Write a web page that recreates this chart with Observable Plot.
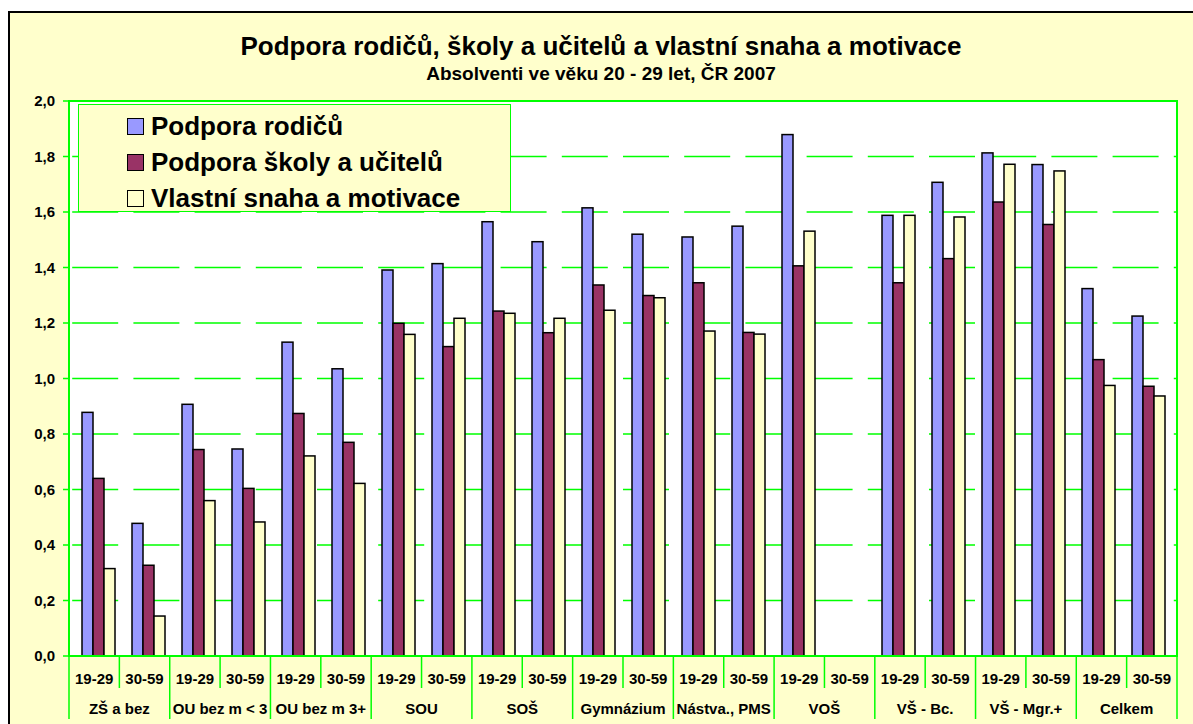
<!DOCTYPE html>
<html><head><meta charset="utf-8">
<script src="https://cdn.jsdelivr.net/npm/d3@7"></script>
<script src="https://cdn.jsdelivr.net/npm/@observablehq/plot@0.6"></script>
<style>
html,body{margin:0;padding:0;width:1193px;height:724px;overflow:hidden;background:#fff;}
#frame{position:absolute;left:8px;top:11px;width:1220px;height:740px;background:#FFFFCC;border-left:2px solid #000;border-top:2px solid #000;}
.t{position:absolute;left:0;width:1202px;text-align:center;font-family:"Liberation Sans",Arial,sans-serif;font-weight:bold;color:#000;white-space:nowrap;}
#title{top:31px;font-size:26px;line-height:30px;}
#sub{top:63px;font-size:19px;line-height:22px;}
#chart{position:absolute;left:0;top:90px;}
#legend{position:absolute;left:78px;top:104px;width:433px;height:108px;background:#FFFFCC;border:1.5px solid #00FF00;box-sizing:border-box;font-family:"Liberation Sans",Arial,sans-serif;font-weight:bold;font-size:26px;}
.item{position:absolute;left:48px;height:30px;line-height:30px;white-space:nowrap;}
.sw{display:inline-block;width:15px;height:15px;border:1.5px solid #000;vertical-align:middle;margin-right:7px;position:relative;top:-2px;}
</style>
</head><body>
<div id="frame"></div>
<div class="t" id="title">Podpora rodičů, školy a učitelů a vlastní snaha a motivace</div>
<div class="t" id="sub">Absolventi ve věku 20 - 29 let, ČR 2007</div>
<div id="chart"></div>
<div id="legend"></div>
<script>
const groups = ["ZŠ a bez","OU bez m < 3","OU bez m 3+","SOU","SOŠ","Gymnázium","Nástva., PMS","VOŠ","VŠ - Bc.","VŠ - Mgr.+","Celkem"];
const ages = ["19-29","30-59"];
const series = ["Podpora rodičů","Podpora školy a učitelů","Vlastní snaha a motivace"];
const colors = ["#9999FF","#993366","#FFFFCC"];
// values per group, in order 19-29, 30-59
const podporaRodicu  = [0.878,0.478, 0.907,0.746, 1.131,1.035, 1.391,1.414, 1.565,1.493, 1.615,1.52, 1.51,1.549, 1.879,null, 1.588,1.707, 1.813,1.771, 1.324,1.225];
const podporaSkoly   = [0.64,0.327, 0.744,0.604, 0.874,0.77, 1.199,1.115, 1.243,1.165, 1.337,1.299, 1.345,1.166, 1.406,null, 1.345,1.432, 1.636,1.555, 1.068,0.972];
const vlastniSnaha   = [0.315,0.144, 0.56,0.483, 0.721,0.622, 1.159,1.217, 1.235,1.217, 1.246,1.291, 1.171,1.16, 1.531,null, 1.588,1.582, 1.772,1.748, 0.975,0.937];
const yTicks = [0,0.2,0.4,0.6,0.8,1.0,1.2,1.4,1.6,1.8,2.0];

const values = [podporaRodicu, podporaSkoly, vlastniSnaha];
const keys = [];
groups.forEach(g => ages.forEach(a => keys.push(g + "|" + a)));
const rows = [];
keys.forEach((k, i) => series.forEach((s, j) => {
  const v = values[j][i];
  if (v != null) rows.push({key: k, series: s, value: v});
}));

const W = 1193, H = 634;
const font = '"Liberation Sans", Arial, sans-serif';
const chart = Plot.plot({
  width: W, height: H,
  marginLeft: 69, marginRight: 16, marginTop: 11, marginBottom: 68,
  style: {background: "transparent", fontFamily: font, fontSize: "15px", fontWeight: "bold", color: "#000", overflow: "visible"},
  fx: {domain: keys, paddingInner: 0.315, paddingOuter: 0.1575, axis: null, label: null},
  x: {domain: series, padding: 0, axis: null},
  y: {domain: [0, 2], axis: null, label: null},
  color: {domain: series, range: colors},
  marks: [
    Plot.barY(rows, {fx: "key", x: "series", y: "value", fill: "series", stroke: "#000", strokeWidth: 1.5})
  ]
});
document.getElementById("chart").appendChild(chart);

// decorations drawn with the plot's own scales
const svg = d3.select(chart);
const fxd = chart.scale("fx"), yd = chart.scale("y");
const fxs = d3.scaleBand(fxd.domain, fxd.range).paddingInner(fxd.paddingInner).paddingOuter(fxd.paddingOuter).align(fxd.align ?? 0.5);
const ys = d3.scaleLinear(yd.domain, yd.range);
const x0 = fxd.range[0], x1 = fxd.range[1];
const yTop = ys(2), yBot = ys(0);
const step = fxs.step(), gap = step - fxs.bandwidth();
const bg = svg.insert("g", ":first-child");
bg.append("rect").attr("x", x0).attr("y", yTop).attr("width", x1 - x0).attr("height", yBot - yTop).attr("fill", "#fff");
yTicks.filter(t => t > 0 && t < 2).forEach(t => {
  bg.append("line").attr("x1", x0).attr("x2", x1).attr("y1", ys(t)).attr("y2", ys(t))
    .attr("stroke", "#00FF00").attr("stroke-width", 1.3).attr("stroke-dasharray", "46,15.2").attr("stroke-dashoffset", 58);
});
const fg = svg.append("g");
yTicks.forEach(t => {
  fg.append("line").attr("x1", x0 - 6).attr("x2", x0).attr("y1", ys(t)).attr("y2", ys(t)).attr("stroke", "#00FF00").attr("stroke-width", 1.5);
  fg.append("text").attr("x", x0 - 14).attr("y", ys(t)).attr("dy", "0.35em").attr("text-anchor", "end")
    .attr("font-family", font).attr("font-weight", "bold").attr("font-size", 15).text(t.toFixed(1).replace(".", ","));
});
fg.append("rect").attr("x", x0).attr("y", yTop).attr("width", x1 - x0).attr("height", yBot - yTop)
  .attr("fill", "none").attr("stroke", "#00FF00").attr("stroke-width", 2);
keys.forEach((k, i) => {
  const left = fxs(k) - gap / 2;
  const len = i % 2 === 0 ? 63 : 32;
  fg.append("line").attr("x1", left).attr("x2", left).attr("y1", yBot).attr("y2", yBot + len).attr("stroke", "#00FF00").attr("stroke-width", 1.5);
  fg.append("text").attr("x", fxs(k) + fxs.bandwidth() / 2).attr("y", yBot + 28).attr("text-anchor", "middle")
    .attr("font-family", font).attr("font-weight", "bold").attr("font-size", 15).text(k.split("|")[1]);
  if (i % 2 === 0) {
    fg.append("text").attr("x", fxs(k) + fxs.bandwidth() / 2 + step / 2).attr("y", yBot + 58).attr("text-anchor", "middle")
      .attr("font-family", font).attr("font-weight", "bold").attr("font-size", 15).text(k.split("|")[0]);
  }
});
fg.append("line").attr("x1", x1).attr("x2", x1).attr("y1", yBot).attr("y2", yBot + 63).attr("stroke", "#00FF00").attr("stroke-width", 1.5);

// legend
const lg = d3.select("#legend");
series.forEach((s, j) => {
  const it = lg.append("div").attr("class", "item").style("top", (6 + j * 36) + "px");
  it.append("span").attr("class", "sw").style("background", colors[j]);
  it.append("span").text(s);
});
</script>
</body></html>
